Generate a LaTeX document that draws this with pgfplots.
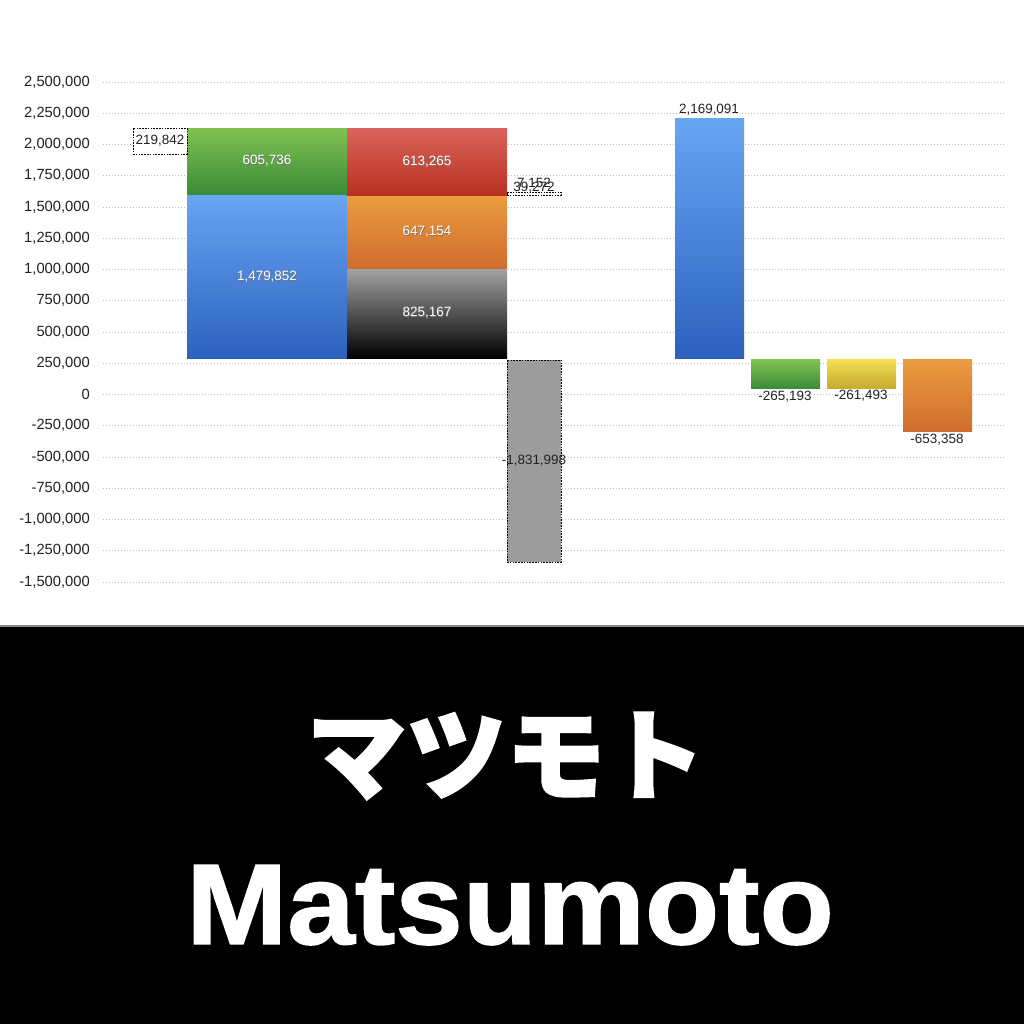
\documentclass[border=0pt]{standalone}
\usepackage{pgfplots}
\usepackage{pgfplotstable}
\pgfplotsset{compat=1.18}
\usepackage{fontspec}
\setmainfont{Liberation Sans}
\newfontfamily\cjk[BoldFeatures={FakeBold=2}]{Noto Sans CJK JP}
\newfontfamily\heavy[BoldFeatures={FakeBold=1.2}]{Liberation Sans}

\definecolor{blueT}{HTML}{68A5F2}
\definecolor{blueB}{HTML}{2C61BE}
\definecolor{greenT}{HTML}{80C253}
\definecolor{greenB}{HTML}{3A8A36}
\definecolor{redT}{HTML}{DA645B}
\definecolor{redB}{HTML}{B8301F}
\definecolor{orangeT}{HTML}{EB9B40}
\definecolor{orangeB}{HTML}{D06D2E}
\definecolor{greyT}{HTML}{A3A3A3}
\definecolor{yellowT}{HTML}{F2DF52}
\definecolor{yellowB}{HTML}{C8A730}
\definecolor{boxgrey}{HTML}{9C9C9C}
\definecolor{gridc}{HTML}{BDBDBD}
\definecolor{txt}{HTML}{222222}

% label positions in axis units, text as in the chart
\pgfplotstableread{
x y label
267 1868000 605,736
267 940000 1,479,852
427 1860000 613,265
427 1300000 647,154
427 652000 825,167
}\whitelabels

\pgfplotstableread{
x y label
160 2028000 219,842
534 1684000 7,152
534 1652000 39,272
534 -532000 -1,831,998
709 2276000 2,169,091
785 -20000 -265,193
861 -12000 -261,493
937 -364000 -653,358
}\blacklabels

\begin{document}
\begin{tikzpicture}[x=1bp,y=1bp]
\path[use as bounding box, fill=white] (0,0) rectangle (1024,1024);
\fill[black] (0,0) rectangle (1024,397);
\fill[black!45] (0,397) rectangle (1024,399);
\node[text=white, font=\cjk\bfseries\fontsize{100}{104}\selectfont] at (506,268) {マツモト};
\node[text=white, anchor=base, xscale=1.06, font=\heavy\bfseries\fontsize{115}{120}\selectfont] at (510,80) {Matsumoto};

\begin{axis}[
  at={(103bp,442bp)}, anchor=south west,
  scale only axis, width=902bp, height=500bp,
  xmin=103, xmax=1005, ymin=-1500000, ymax=2500000,
  axis line style={draw=none},
  xtick=\empty,
  ytick={-1500000,-1250000,...,2500000},
  major tick length=0pt,
  ymajorgrids,
  major grid style={color=gridc, line width=0.7bp, dash pattern=on 1bp off 2bp},
  scaled y ticks=false,
  /pgf/number format/fixed,
  /pgf/number format/1000 sep={,},
  /pgf/number format/assume math mode=true,
  yticklabel style={font=\fontsize{14.8}{16}\selectfont, text=txt, anchor=east, inner sep=0pt, xshift=-13bp},
  clip=false,
]
% left stack
\addplot[draw=none, top color=blueT, bottom color=blueB] coordinates {(187,289600)(347,289600)(347,1596000)(187,1596000)} -- cycle;
\addplot[draw=none, top color=greenT, bottom color=greenB] coordinates {(187,1596000)(347,1596000)(347,2129600)(187,2129600)} -- cycle;
% middle stack
\addplot[draw=none, top color=greyT, bottom color=black] coordinates {(347,289600)(507,289600)(507,1009600)(347,1009600)} -- cycle;
\addplot[draw=none, top color=orangeT, bottom color=orangeB] coordinates {(347,1009600)(507,1009600)(507,1588000)(347,1588000)} -- cycle;
\addplot[draw=none, top color=redT, bottom color=redB] coordinates {(347,1588000)(507,1588000)(507,2129600)(347,2129600)} -- cycle;
% dashed boxes
\addplot[fill=white, draw=black, line width=0.8bp, dash pattern=on 1.6bp off 1.2bp] coordinates {(133,1924000)(187,1924000)(187,2132000)(133,2132000)} -- cycle;
\addplot[fill=white, draw=black, line width=0.8bp, dash pattern=on 1.6bp off 1.2bp] coordinates {(507,1596000)(561,1596000)(561,1620000)(507,1620000)} -- cycle;
\addplot[fill=boxgrey, draw=black, line width=0.8bp, dash pattern=on 1.6bp off 1.2bp] coordinates {(507,-1342400)(561,-1342400)(561,276000)(507,276000)} -- cycle;
% right bars
\addplot[draw=none, top color=blueT, bottom color=blueB] coordinates {(675,284000)(744,284000)(744,2204000)(675,2204000)} -- cycle;
\addplot[draw=none, top color=greenT, bottom color=greenB] coordinates {(751,44000)(820,44000)(820,276000)(751,276000)} -- cycle;
\addplot[draw=none, top color=yellowT, bottom color=yellowB] coordinates {(827,44000)(896,44000)(896,276000)(827,276000)} -- cycle;
\addplot[draw=none, top color=orangeT, bottom color=orangeB] coordinates {(903,-297600)(972,-297600)(972,276000)(903,276000)} -- cycle;
% labels
\addplot[only marks, mark=*, mark size=0pt, mark options={draw=none, fill=none},
  nodes near coords, point meta=explicit symbolic, nodes near coords align=center,
  every node near coord/.append style={font=\fontsize{13.5}{15}\selectfont, text=black!55, inner sep=0pt, xshift=0.6bp, yshift=-0.6bp}]
  table[x=x, y=y, meta=label] {\whitelabels};
\addplot[only marks, mark=*, mark size=0pt, mark options={draw=none, fill=none},
  nodes near coords, point meta=explicit symbolic, nodes near coords align=center,
  every node near coord/.append style={font=\fontsize{13.5}{15}\selectfont, text=white, inner sep=0pt}]
  table[x=x, y=y, meta=label] {\whitelabels};
\addplot[only marks, mark=*, mark size=0pt, mark options={draw=none, fill=none},
  nodes near coords, point meta=explicit symbolic, nodes near coords align=center,
  every node near coord/.append style={font=\fontsize{13.5}{15}\selectfont, text=txt, inner sep=0pt}]
  table[x=x, y=y, meta=label] {\blacklabels};
\end{axis}
\end{tikzpicture}
\end{document}
